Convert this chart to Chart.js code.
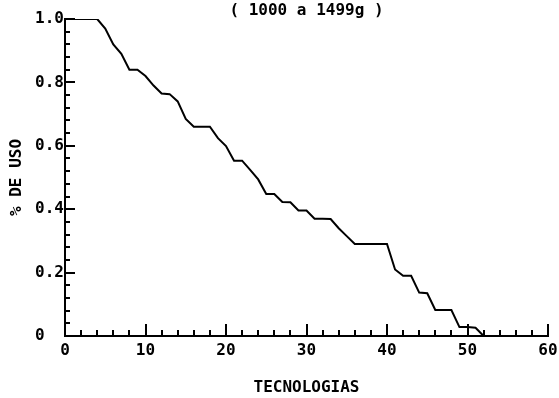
<!DOCTYPE html>
<html>
<head>
<meta charset="utf-8">
<script src="https://cdn.jsdelivr.net/npm/chart.js@4/dist/chart.umd.min.js"></script>
<style>
  html, body { margin: 0; padding: 0; background: #fff; }
</style>
</head>
<body>
<canvas id="graph" width="559" height="398"></canvas>
<script>
const tecnologias = [0, 1, 2, 3, 4, 5, 6, 7, 8, 9, 10, 11, 12, 13, 14, 15, 16, 17, 18, 19, 20,
  21, 22, 23, 24, 25, 26, 27, 28, 29, 30, 31, 32, 33, 34, 35, 36, 37, 38, 39, 40,
  41, 42, 43, 44, 45, 46, 47, 48, 49, 50, 51, 52]
const usoPct = [1.0, 1.0, 1.0, 1.0, 1.0, 0.97, 0.92, 0.89, 0.84, 0.84, 0.82, 0.79, 0.765, 0.763, 0.74, 0.685,
  0.66, 0.66, 0.66, 0.624, 0.599, 0.553, 0.553, 0.524, 0.494, 0.448, 0.448, 0.423, 0.422, 0.396, 0.396,
  0.37, 0.37, 0.369, 0.34, 0.315, 0.29, 0.29, 0.29, 0.29, 0.29, 0.21, 0.19, 0.19, 0.137, 0.135,
  0.082, 0.082, 0.082, 0.028, 0.028, 0.026, 0]
const titulo = '( 1000 a 1499g )'
const xTitulo = 'TECNOLOGIAS'
const yTitulo = '% DE USO'

const fuente = "'DejaVu Sans Mono', 'Liberation Mono', monospace"

// small inward tick marks like the plotter output
const ticksPlugin = {
  id: 'ticks',
  afterDatasetsDraw(chart) {
    const ctx = chart.ctx
    const xs = chart.scales.x
    const ys = chart.scales.y
    ctx.save()
    ctx.strokeStyle = '#000'
    ctx.lineWidth = 2
    ctx.beginPath()
    for (let v = 2; v <= 60; v += 2) {
      const px = Math.round(xs.getPixelForValue(v))
      const len = v % 10 === 0 ? 12 : 6
      ctx.moveTo(px, ys.bottom)
      ctx.lineTo(px, ys.bottom - len)
    }
    for (let i = 1; i <= 25; i++) {
      const py = Math.round(ys.getPixelForValue(i * 0.04))
      const len = i % 5 === 0 ? 10 : 5
      ctx.moveTo(xs.left, py)
      ctx.lineTo(xs.left + len, py)
    }
    ctx.stroke()
    ctx.restore()
  }
}

const ctx = document.getElementById('graph').getContext('2d')

const data = {
  datasets: [{
    label: yTitulo,
    data: tecnologias.map((x, i) => ({ x: x, y: usoPct[i] })),
    borderColor: '#000',
    borderWidth: 2,
    pointRadius: 0,
    tension: 0,
    fill: false
  }]
}

const config = {
  type: 'line',
  data: data,
  options: {
    responsive: false,
    animation: false,
    devicePixelRatio: 1,
    layout: { padding: { left: 0, right: 11, top: 0, bottom: 0 } },
    plugins: {
      legend: { display: false },
      tooltip: { enabled: false },
      title: {
        display: true,
        text: titulo,
        fullSize: false,
        color: '#000',
        font: { family: fuente, size: 16, weight: 'bold', lineHeight: 1 },
        padding: { top: 3, bottom: 0 }
      }
    },
    scales: {
      x: {
        type: 'linear',
        min: 0,
        max: 60,
        afterFit: s => { s.height = 62; s.paddingLeft = 0; s.paddingRight = 0 },
        grid: { display: true, drawOnChartArea: false, drawTicks: false },
        border: { display: true, color: '#000', width: 2 },
        ticks: {
          stepSize: 10,
          color: '#000',
          padding: 7,
          maxRotation: 0,
          font: { family: fuente, size: 16, weight: 'bold', lineHeight: 1 }
        },
        title: {
          display: true,
          text: xTitulo,
          color: '#000',
          font: { family: fuente, size: 16, weight: 'bold', lineHeight: 1 },
          padding: { top: 0, bottom: 2 }
        }
      },
      y: {
        min: 0,
        max: 1,
        afterFit: s => { s.width = 65; s.paddingTop = 0; s.paddingBottom = 0 },
        grid: { display: true, drawOnChartArea: false, drawTicks: false },
        border: { display: true, color: '#000', width: 2 },
        ticks: {
          stepSize: 0.2,
          color: '#000',
          padding: 1,
          crossAlign: 'near',
          font: { family: fuente, size: 16, weight: 'bold', lineHeight: 1 },
          callback: v => (v === 0 ? '0  ' : v.toFixed(1))
        },
        title: {
          display: true,
          text: yTitulo,
          color: '#000',
          font: { family: fuente, size: 16, weight: 'bold', lineHeight: 1 },
          padding: { top: 9, bottom: 0 }
        }
      }
    }
  },
  plugins: [ticksPlugin]
}

const graph = new Chart(ctx, config)
</script>
</body>
</html>
